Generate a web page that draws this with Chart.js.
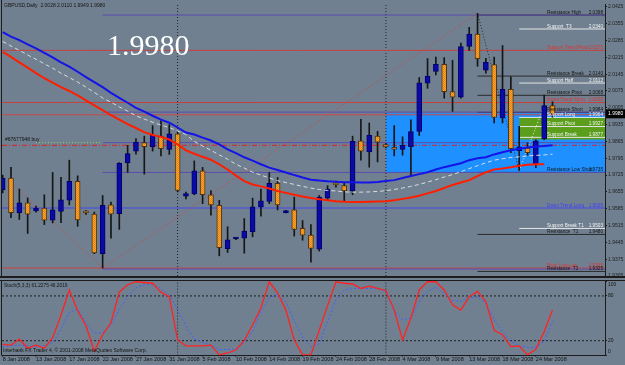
<!DOCTYPE html>
<html><head><meta charset="utf-8">
<script src="https://cdn.jsdelivr.net/npm/chart.js@4.4.1/dist/chart.umd.min.js"></script>
<style>
html,body{margin:0;padding:0;background:#708090;}
#wrap{position:relative;width:625px;height:365px;background:#708090;overflow:hidden;}
#main{position:absolute;left:0;top:0;}
#stoch{position:absolute;left:0;top:280px;}
</style></head><body>
<div id="wrap"><canvas id="main" width="625" height="280"></canvas><canvas id="stoch" width="625" height="85"></canvas></div>
<script>
// ---------------- DATA ----------------
const dates = ['8 Jan 2008','9 Jan 2008','10 Jan 2008','11 Jan 2008','13 Jan 2008','14 Jan 2008','15 Jan 2008','16 Jan 2008','17 Jan 2008','18 Jan 2008',
 '20 Jan 2008','21 Jan 2008','22 Jan 2008','23 Jan 2008','24 Jan 2008','25 Jan 2008','27 Jan 2008','28 Jan 2008','29 Jan 2008','30 Jan 2008',
 '31 Jan 2008','1 Feb 2008','3 Feb 2008','4 Feb 2008','5 Feb 2008','6 Feb 2008','7 Feb 2008','8 Feb 2008','10 Feb 2008','11 Feb 2008',
 '12 Feb 2008','13 Feb 2008','14 Feb 2008','15 Feb 2008','17 Feb 2008','18 Feb 2008','19 Feb 2008','20 Feb 2008','21 Feb 2008','22 Feb 2008',
 '24 Feb 2008','25 Feb 2008','26 Feb 2008','27 Feb 2008','28 Feb 2008','29 Feb 2008','2 Mar 2008','3 Mar 2008','4 Mar 2008','5 Mar 2008',
 '6 Mar 2008','7 Mar 2008','9 Mar 2008','10 Mar 2008','11 Mar 2008','12 Mar 2008','13 Mar 2008','14 Mar 2008','16 Mar 2008','17 Mar 2008',
 '18 Mar 2008','19 Mar 2008','20 Mar 2008','23 Mar 2008','24 Mar 2008','25 Mar 2008','26 Mar 2008'];

const openP = [1.9663,1.9713,1.9569,1.9609,1.9576,1.9588,1.9537,1.9574,1.9621,1.9699,
 1.9570,1.9563,1.9398,1.9601,1.9564,1.9776,1.9825,1.9860,1.9842,1.9887,
 1.9832,1.9897,1.9637,1.9647,1.9743,1.9643,1.9599,1.9419,1.9459,1.9462,
 1.9489,1.9592,1.9615,1.9691,1.9569,1.9580,1.9503,1.9475,1.9417,1.9629,
 1.9692,1.9681,1.9659,1.9868,1.9821,1.9887,1.9852,1.9837,1.9832,1.9843,
 1.9907,2.0107,2.0156,2.0186,2.0072,2.0049,2.0260,2.0312,2.0162,2.0185,
 1.9963,2.0082,1.9827,1.9837,1.9770,1.9875,2.0014];
const highP = [1.9725,1.9757,1.9667,1.9630,1.9596,1.9643,1.9736,1.9716,1.9787,1.9722,
 1.9577,1.9571,1.9640,1.9613,1.9777,1.9849,1.9877,1.9887,1.9931,1.9951,
 1.9935,1.9907,1.9654,1.9784,1.9757,1.9661,1.9620,1.9510,1.9464,1.9544,
 1.9629,1.9667,1.9736,1.9715,1.9578,1.9633,1.9536,1.9519,1.9640,1.9681,
 1.9700,1.9695,1.9887,1.9957,1.9942,1.9907,1.9856,1.9931,1.9884,1.9955,
 2.0131,2.0210,2.0216,2.0214,2.0203,2.0274,2.0340,2.0398,2.0211,2.0216,
 2.0264,2.0134,1.9928,1.9859,1.9872,2.0058,2.0030];
const lowP = [1.9651,1.9548,1.9540,1.9482,1.9571,1.9519,1.9526,1.9527,1.9601,1.9512,
 1.9561,1.9398,1.9338,1.9462,1.9499,1.9736,1.9812,1.9729,1.9825,1.9805,
 1.9811,1.9655,1.9626,1.9643,1.9606,1.9558,1.9389,1.9403,1.9456,1.9400,
 1.9468,1.9554,1.9606,1.9580,1.9568,1.9471,1.9454,1.9363,1.9409,1.9620,
 1.9675,1.9615,1.9643,1.9787,1.9758,1.9780,1.9838,1.9805,1.9808,1.9720,
 1.9890,2.0086,2.0142,2.0045,1.9990,2.0045,2.0244,2.0178,2.0149,1.9942,
 1.9942,1.9818,1.9744,1.9808,1.9756,1.9872,1.9966];
const closeP = [1.9713,1.9569,1.9609,1.9562,1.9588,1.9537,1.9580,1.9622,1.9699,1.9538,
 1.9568,1.9401,1.9599,1.9562,1.9774,1.9814,1.9862,1.9843,1.9890,1.9835,
 1.9897,1.9661,1.9648,1.9743,1.9643,1.9601,1.9423,1.9456,1.9461,1.9492,
 1.9593,1.9618,1.9691,1.9601,1.9577,1.9499,1.9475,1.9420,1.9633,1.9667,
 1.9684,1.9659,1.9865,1.9824,1.9890,1.9862,1.9842,1.9832,1.9849,1.9906,
 2.0109,2.0137,2.0186,2.0072,2.0049,2.0260,2.0312,2.0209,2.0194,1.9965,
 2.0082,1.9835,1.9843,1.9818,1.9868,2.0014,1.9980];

const maBlue = [2.0320,2.0301,2.0287,2.0269,2.0252,2.0234,2.0215,2.0194,2.0176,2.0155,
 2.0133,2.0112,2.0091,2.0067,2.0046,2.0026,2.0005,1.9989,1.9972,1.9956,
 1.9943,1.9923,1.9902,1.9894,1.9881,1.9869,1.9853,1.9832,1.9816,1.9799,
 1.9785,1.9770,1.9756,1.9746,1.9736,1.9725,1.9715,1.9706,1.9702,1.9699,
 1.9697,1.9695,1.9695,1.9694,1.9694,1.9696,1.9700,1.9704,1.9713,1.9721,
 1.9729,1.9737,1.9748,1.9758,1.9766,1.9774,1.9787,1.9795,1.9799,1.9811,
 1.9820,1.9828,1.9835,1.9840,1.9844,1.9846,1.9849];
const maWhite = [2.0281,2.0262,2.0244,2.0225,2.0207,2.0188,2.0170,2.0149,2.0131,2.0112,
 2.0091,2.0069,2.0046,2.0028,2.0009,1.9991,1.9972,1.9958,1.9945,1.9933,
 1.9923,1.9908,1.9894,1.9865,1.9846,1.9828,1.9809,1.9791,1.9770,1.9754,
 1.9737,1.9725,1.9713,1.9702,1.9694,1.9686,1.9678,1.9671,1.9665,1.9661,
 1.9659,1.9655,1.9654,1.9654,1.9655,1.9657,1.9660,1.9665,1.9671,1.9678,
 1.9686,1.9696,1.9706,1.9717,1.9727,1.9739,1.9752,1.9764,1.9776,1.9787,
 1.9793,1.9798,1.9801,1.9805,1.9807,1.9809,1.9812];
const maRed = [2.0238,2.0217,2.0194,2.0172,2.0149,2.0128,2.0110,2.0091,2.0075,2.0057,
 2.0036,2.0015,1.9995,1.9974,1.9956,1.9937,1.9921,1.9904,1.9892,1.9884,
 1.9873,1.9853,1.9828,1.9814,1.9801,1.9789,1.9770,1.9748,1.9723,1.9700,
 1.9686,1.9678,1.9669,1.9659,1.9651,1.9643,1.9636,1.9630,1.9624,1.9620,
 1.9616,1.9614,1.9613,1.9613,1.9614,1.9615,1.9616,1.9620,1.9626,1.9632,
 1.9639,1.9649,1.9659,1.9671,1.9684,1.9694,1.9704,1.9721,1.9737,1.9748,
 1.9752,1.9758,1.9764,1.9768,1.9770,1.9770,null];

const stochK = [15,14,22,10,14,10,24,54,88,60,
 40,6,28,44,85,95,99,98,97,85,
 79,21,13,13,13,14,1,3.5,7.5,20.5,
 41,64,99,84,61,21,1,1,34,67,
 99,97,96,90,93,90,87,61,21,50,
 88,99,99,88,68,61,79,86,72,34,
 28,12,13,1,8.5,32,61.2275];
const stochD = [12,13,14,13,12,13,17,35,58,62,
 44,30,31,41,62,79,91,95,95,90,
 81,61,40,22,18,14,8,8,9,18,
 32,59,77,82,72,47,25,12,16,45,
 75,88,90,90,90,90,86,60,48,50,
 72,86,92,83,74,73,77,79,70,48,
 32,19,13,11,11,19,46.2019];

const priceTicks = [2.0425,2.0355,2.0285,2.0215,2.0145,2.0075,2.0005,1.9935,1.9865,1.9795,1.9725,1.9655,1.9585,1.9515,1.9445,1.9375,1.9305];
const stochTicks = [100,80,20,0];
const stochLevels = [20,80];
const dateTickBars = [0,4,8,12,16,20,24,28,32,36,40,44,48,52,56,60,64];
const monthStartBars = [21,46];

// pivot levels: name, label value, line price, first bar
const levelNames  = ['Resistance High','Support  T3','Support Trend Pivot','Resistance Break','Support Half','Resistance Pivot','Down Trend Short','Resistance Short','Support Long','Support Pivot','Support Break','Resistance Low Short','Down Trend Long','Support Break T1','Resistance  T1','Pivot Low Low','Resistance  T2'];
const levelTexts  = ['2.0398','2.0340','2.0270','2.0140','2.0112','2.0068','2.0038','1.9984','1.9964','1.9927','1.9877','1.9735','1.9605','1.9503','1.9480','1.9335','1.9325'];
const levelPrices = [2.0391,2.0333,2.0244,2.0137,2.0108,2.0057,2.0027,1.9986,1.9965,1.9927,1.9882,1.9736,1.9588,1.9503,1.9478,1.9338,1.9324];
const levelKinds  = ['res','sup','red','res','sup','res','red','res','sup','sup','sup','res','blue','sup','res','red','res'];
const levelFrom   = [57,62,null,57,62,57,null,57,62,62,62,57,null,62,57,null,57];
const fibPrices = [2.0391,1.9987,1.9860,1.9736,1.9334];
const fibFromBar = 12;
const redTrendStart = {bar:1, price:1.9696};
const extraRedLevel = 1.9976;
const buyLevel = 1.9849;
const blueZone = {fromBar:46, top:1.9982, bottom:1.9736};
const greenZone = {fromBar:62, top:1.9964, bottom:1.9873};
const titleText = 'GBPUSD,Daily  2.0028 2.0110 1.9949 1.9980';
const orderText = '#87677948 buy';
const stochTitle = 'Stoch(5,3,3) 61.2275 46.2019';
const copyright = 'Interbank FX Trader 4, \u00A9 2001-2008 MetaQuotes Software Corp.';

// ---------------- BUILD ----------------
const N = dates.length;
const idx = dates.map((d,i)=>i);
const YMIN = 1.9305, YMAX = 2.0437, XMIN = -0.08, XMAX = 72.3;
const FONT = 'Liberation Sans';
const DARK = '#1c1c1c';

function pattern(c1,c2){const c=document.createElement('canvas');c.width=2;c.height=2;const g=c.getContext('2d');g.fillStyle=c1;g.fillRect(0,0,2,2);g.fillStyle=c2;g.fillRect(0,0,1,1);g.fillRect(1,1,1,1);return g.createPattern(c,'repeat');}
const orangeFill = pattern('#ffa226','#e0861a');
const up = idx.map(i=>closeP[i]>=openP[i]);

function seg(x0,x1,v,color,width,dash,order){
  return {type:'line',data:[{x:x0,y:v},{x:x1,y:v}],borderColor:color,borderWidth:width,borderDash:dash||[],pointRadius:0,fill:false,order:order};
}
function vseg(xv,y0,y1,color,dash,order){
  return {type:'line',data:[{x:xv,y:y0},{x:xv,y:y1}],borderColor:color,borderWidth:1,borderDash:dash,pointRadius:0,fill:false,order:order};
}
function zone(z,color,order){
  return {type:'line',data:[{x:z.fromBar,y:z.top},{x:XMAX,y:z.top}],borderWidth:0,borderColor:'rgba(0,0,0,0)',backgroundColor:color,fill:{value:z.bottom},pointRadius:0,order:order};
}
const kindLine = {res:'#2a2a2a',sup:'#e6e6e6',red:'#c84040',blue:'#4646f0'};
const kindText = {res:'#141414',sup:'#f2f2f2',red:'#e03232',blue:'#3c3cff'};

const mainSets = [];
mainSets.push(zone(blueZone,'#1e90ff',62));
mainSets.push(zone(greenZone,'#5a9e1c',61));
monthStartBars.forEach(b=>mainSets.push(vseg(b,YMIN,YMAX,'#222',[1,2],55)));
// full width lines
mainSets.push(seg(XMIN,XMAX,extraRedLevel,'#c84848',1,[],50));
mainSets.push(seg(XMIN,XMAX,buyLevel,'#e02020',1,[5,2,1,2],50));
mainSets.push(seg(4,fibFromBar,fibPrices[2],'#90d060',1,[1,2],49));
levelPrices.forEach((p,k)=>{
  const from = levelFrom[k]===null ? XMIN : levelFrom[k];
  mainSets.push(seg(from,XMAX,p,kindLine[levelKinds[k]],1,[],48));
});
fibPrices.forEach(p=>mainSets.push(seg(fibFromBar,XMAX,p,'#5c4cae',1,[],47)));
// trend / zigzag dotted lines
mainSets.push({type:'line',data:[{x:redTrendStart.bar,y:redTrendStart.price},{x:12,y:lowP[12]},{x:57,y:highP[57]}],borderColor:'#d04444',borderWidth:1,borderDash:[1,2],pointRadius:0,fill:false,order:40});
mainSets.push({type:'line',data:[{x:57,y:highP[57]},{x:62,y:lowP[62]}],borderColor:'#2a2a2a',borderWidth:1,borderDash:[1,2],pointRadius:0,fill:false,order:40});
mainSets.push({type:'line',data:[{x:62,y:lowP[62]},{x:65,y:closeP[65]}],borderColor:'#e8e8e8',borderWidth:1,borderDash:[1,2],pointRadius:0,fill:false,order:40});
// candles
mainSets.push({type:'bar',data:idx.map(i=>({x:i,y:[lowP[i],highP[i]]})),backgroundColor:'#161616',barThickness:1,grouped:false,order:21});
mainSets.push({type:'bar',data:idx.map(i=>({x:i,y:[Math.min(openP[i],closeP[i]),Math.max(openP[i],closeP[i])]})),
  backgroundColor:idx.map(i=>up[i]?'#0a0aa6':orangeFill),borderColor:idx.map(i=>up[i]?'#00006a':'#4e3412'),
  borderWidth:1,borderSkipped:false,barThickness:5,grouped:false,minBarLength:2,order:20});
// moving averages
mainSets.push({type:'line',data:idx.map(i=>({x:i,y:maWhite[i]})),borderColor:'#dcdcdc',borderWidth:1,borderDash:[4,3],pointRadius:0,fill:false,order:12});
mainSets.push({type:'line',data:idx.map(i=>({x:i,y:maRed[i]})),borderColor:'#ff1e00',borderWidth:2,pointRadius:0,fill:false,order:11});
mainSets.push({type:'line',data:idx.map(i=>({x:i,y:maBlue[i]})),borderColor:'#1414e8',borderWidth:2,pointRadius:0,fill:false,order:10});

const mainDeco = {
  id:'mainDeco',
  afterDraw(chart){
    const {ctx, chartArea:a, scales:{y}} = chart;
    ctx.save();
    ctx.fillStyle = DARK;
    ctx.fillRect(a.left-1, 0, 1, a.bottom);
    ctx.fillRect(0, a.bottom, chart.width, 2);
    // level labels
    ctx.font = '4.7px "'+FONT+'"';
    ctx.textBaseline = 'bottom';
    levelNames.forEach((n,k)=>{
      const py = y.getPixelForValue(levelPrices[k]);
      ctx.fillStyle = kindText[levelKinds[k]];
      ctx.textAlign = 'left'; ctx.fillText(n, a.right-58, py);
      ctx.textAlign = 'right'; ctx.fillText(levelTexts[k], a.right-2, py);
    });
    // title & order texts
    ctx.fillStyle = '#141414';
    ctx.textAlign = 'left'; ctx.textBaseline = 'middle';
    ctx.font = '5px "'+FONT+'"';
    ctx.fillText(titleText, a.left+2, 6);
    ctx.fillText(orderText, a.left+3, y.getPixelForValue(buyLevel)-6);
    // big price
    ctx.fillStyle = '#ffffff';
    ctx.font = '30px "Liberation Serif"';
    ctx.textBaseline = 'alphabetic';
    ctx.fillText(closeP[N-1].toFixed(4), 107, 55);
    // price box
    const py = y.getPixelForValue(closeP[N-1]);
    ctx.fillStyle = '#000';
    ctx.fillRect(a.right+1, py-4.5, 20, 9);
    ctx.fillStyle = '#fff';
    ctx.font = '5px "'+FONT+'"';
    ctx.textAlign = 'left'; ctx.textBaseline = 'middle';
    ctx.fillText(closeP[N-1].toFixed(4), a.right+3, py);
    ctx.restore();
  }
};

new Chart(document.getElementById('main'), {
  type:'bar',
  data:{datasets:mainSets},
  options:{
    responsive:false, animation:false, devicePixelRatio:1,
    layout:{padding:{left:2,top:3,right:0,bottom:2}},
    plugins:{legend:{display:false},tooltip:{enabled:false}},
    scales:{
      x:{type:'linear',min:XMIN,max:XMAX,offset:false,display:false},
      y:{type:'linear',position:'right',min:YMIN,max:YMAX,
        afterFit:s=>{s.width=20;},
        afterBuildTicks:s=>{s.ticks=priceTicks.map(v=>({value:v}));},
        ticks:{callback:v=>Number(v).toFixed(4),font:{family:FONT,size:5},color:'#1e1e1e',padding:1,autoSkip:false},
        grid:{drawOnChartArea:false,drawTicks:true,tickLength:2,color:DARK},
        border:{display:true,color:DARK}}
    }
  },
  plugins:[mainDeco]
});

// ---------------- STOCHASTIC ----------------
const stochSets = [];
stochLevels.forEach(v=>stochSets.push(seg(XMIN,XMAX,v,'#1e1e1e',1,[2,2],30)));
monthStartBars.forEach(b=>stochSets.push(vseg(b,0,100,'#222',[1,2],30)));
stochSets.push({type:'line',data:idx.map(i=>({x:i,y:stochD[i]})),borderColor:'#4060ff',borderWidth:1,borderDash:[2,2],pointRadius:0,fill:false,order:2});
stochSets.push({type:'line',data:idx.map(i=>({x:i,y:stochK[i]})),borderColor:'#ff2222',borderWidth:1.3,pointRadius:0,fill:false,order:1});

const stochDeco = {
  id:'stochDeco',
  afterDraw(chart){
    const {ctx, chartArea:a, scales:{y}} = chart;
    ctx.save();
    ctx.fillStyle = DARK;
    ctx.fillRect(0,0,chart.width,1);
    ctx.fillRect(a.left-1,0,1,a.bottom);
    ctx.fillStyle = '#141414';
    ctx.font = '4.8px "'+FONT+'"';
    ctx.textAlign = 'left'; ctx.textBaseline = 'middle';
    ctx.fillText(stochTitle, a.left+2, 6);
    ctx.font = '5px "'+FONT+'"';
    ctx.fillText(copyright, a.left+1, 71);
    stochTicks.forEach(v=>{
      let py = y.getPixelForValue(v);
      if(v===100) py += 3.3;
      if(v===0) py -= 3.9;
      ctx.fillText(String(v), a.right+3, py);
    });
    ctx.restore();
  }
};

new Chart(document.getElementById('stoch'), {
  type:'line',
  data:{datasets:stochSets},
  options:{
    responsive:false, animation:false, devicePixelRatio:1,
    layout:{padding:{left:2,top:1,right:0,bottom:0}},
    plugins:{legend:{display:false},tooltip:{enabled:false}},
    scales:{
      x:{type:'linear',min:XMIN,max:XMAX,offset:false,position:'bottom',
        afterFit:s=>{s.height=9.4;},
        afterBuildTicks:s=>{s.ticks=dateTickBars.map(v=>({value:v}));},
        ticks:{callback:v=>dates[v]||'',font:{family:FONT,size:5.5},color:'#141414',padding:0,align:'start',maxRotation:0,autoSkip:false},
        grid:{drawOnChartArea:false,drawTicks:true,tickLength:1,color:DARK},
        border:{display:true,color:DARK}},
      y:{type:'linear',position:'right',min:0,max:100,
        afterFit:s=>{s.width=20;},
        afterBuildTicks:s=>{s.ticks=stochTicks.map(v=>({value:v}));},
        ticks:{display:false},
        grid:{drawOnChartArea:false,drawTicks:true,tickLength:2,color:DARK},
        border:{display:true,color:DARK}}
    }
  },
  plugins:[stochDeco]
});
</script>
</body></html>
